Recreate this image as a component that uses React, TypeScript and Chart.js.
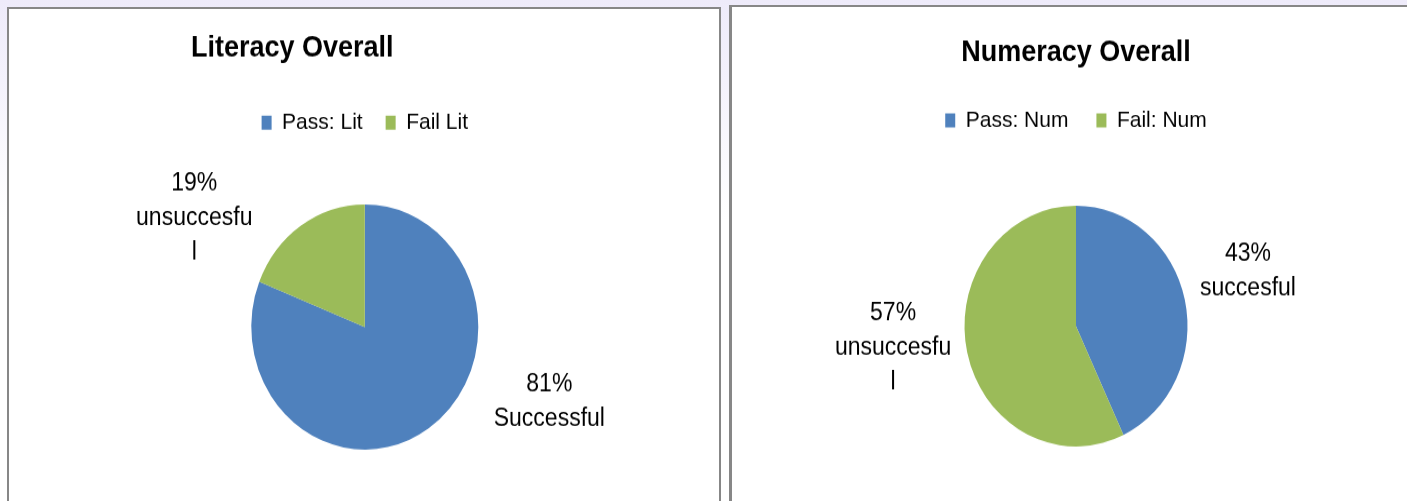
import React, { useEffect, useRef } from "react";
import { Chart, registerables } from "chart.js";

Chart.register(...registerables);

// ---- data ----
const litCategories = ["Pass: Lit", "Fail Lit"];
const litValues = [81, 19];
const litLabelWords = [["Successful"], ["unsuccesfu", "l"]];

const numCategories = ["Pass: Num", "Fail: Num"];
const numValues = [43, 57];
const numLabelWords = [["succesful"], ["unsuccesfu", "l"]];

const sliceColors = ["#4F81BD", "#9BBB59"];

const FONT = "'Liberation Sans', Arial, sans-serif";
const STRETCH = 1.08;

type Placement = { angle: number; dist: number };

const pieLabelsPlugin = {
  id: "pieLabels",
  afterDatasetsDraw(chart: any, _args: any, opts: any) {
    const meta = chart.getDatasetMeta(0);
    const ds = chart.data.datasets[0];
    const total = ds.data.reduce((a: number, b: number) => a + b, 0);
    const ctx = chart.ctx;
    ctx.save();
    ctx.font = `${opts.size}px ${FONT}`;
    ctx.fillStyle = "#000";
    ctx.textAlign = "center";
    ctx.textBaseline = "middle";
    meta.data.forEach((arc: any, i: number) => {
      const { x, y, outerRadius } = arc.getProps(["x", "y", "outerRadius"], true);
      const p: Placement = opts.placements[i];
      const a = (p.angle * Math.PI) / 180;
      const cx = x + p.dist * outerRadius * Math.sin(a);
      const cy = y - p.dist * outerRadius * Math.cos(a);
      const lines = [Math.round((ds.data[i] / total) * 100) + "%", ...opts.words[i]];
      const n = lines.length;
      lines.forEach((t: string, k: number) => {
        ctx.fillText(t, cx, cy + (k - (n - 1) / 2) * opts.lineHeight);
      });
    });
    ctx.restore();
  },
};

type PieProps = {
  left: number;
  top: number;
  width: number;
  height: number;
  title: string;
  titleAlign: "start" | "center";
  titlePad: { top: number; bottom: number };
  legendPad: number;
  padding: { left: number; right: number; top: number; bottom: number };
  radius: number;
  categories: string[];
  values: number[];
  words: string[][];
  placements: Placement[];
};

function PieChart(props: PieProps) {
  const ref = useRef<HTMLCanvasElement | null>(null);
  useEffect(() => {
    const canvas = ref.current!;
    const chart = new Chart(canvas, {
      type: "pie",
      data: {
        labels: props.categories,
        datasets: [
          {
            data: props.values,
            backgroundColor: sliceColors,
            borderWidth: 0,
            radius: props.radius,
          } as any,
        ],
      },
      options: {
        responsive: false,
        animation: false,
        events: [],
        layout: { padding: props.padding },
        plugins: {
          title: {
            display: true,
            text: props.title,
            align: props.titleAlign,
            color: "#000",
            font: { family: FONT, size: 27, weight: "bold", lineHeight: 1.2 },
            padding: props.titlePad,
          },
          legend: {
            display: true,
            position: "top",
            labels: {
              color: "#000",
              font: { family: FONT, size: 21 },
              boxWidth: 10,
              boxHeight: 13,
              padding: props.legendPad,
            },
          },
          tooltip: { enabled: false },
          pieLabels: {
            placements: props.placements,
            words: props.words,
            size: 23,
            lineHeight: 32,
          },
        } as any,
      },
      plugins: [pieLabelsPlugin],
    });
    return () => chart.destroy();
  }, []);
  return (
    <div
      style={{
        position: "absolute",
        left: props.left,
        top: props.top,
        width: props.width,
        height: props.height,
        transform: `scaleY(${STRETCH})`,
        transformOrigin: "0 0",
        zIndex: 2,
      }}
    >
      <canvas
        ref={ref}
        width={props.width}
        height={props.height}
        style={{ width: props.width, height: props.height, display: "block" }}
      />
    </div>
  );
}

export default function App() {
  return (
    <div
      style={{
        position: "fixed",
        left: 0,
        top: 0,
        width: 1407,
        height: 501,
        overflow: "hidden",
        background: "linear-gradient(to bottom, #EEEBFA 0px, #F4F2FC 80px, #FFFFFF 220px)",
      }}
    >
      <div
        style={{
          position: "absolute",
          left: 7,
          top: 7,
          width: 714,
          height: 600,
          boxSizing: "border-box",
          border: "2px solid #878787",
          borderBottom: "none",
          background: "#FFFFFF",
        }}
      />
      <div
        style={{
          position: "absolute",
          left: 729,
          top: 5,
          width: 720,
          height: 600,
          boxSizing: "border-box",
          borderLeft: "3px solid #878787",
          borderTop: "2px solid #878787",
          background: "#FFFFFF",
        }}
      />
      <PieChart
        left={9}
        top={9}
        width={711}
        height={470}
        title="Literacy Overall"
        titleAlign="start"
        titlePad={{ top: 20.7, bottom: 18.7 }}
        legendPad={23}
        padding={{ left: 182, right: 181.4, top: 0, bottom: 7 }}
        radius={113.5}
        categories={litCategories}
        values={litValues}
        words={litLabelWords}
        placements={[
          { angle: 110.6, dist: 1.737 },
          { angle: 300.5, dist: 1.744 },
        ]}
      />
      <PieChart
        left={732}
        top={7}
        width={688}
        height={472}
        title="Numeracy Overall"
        titleAlign="center"
        titlePad={{ top: 26.6, bottom: 7.4 }}
        legendPad={28}
        padding={{ left: 0, right: 0, top: 0, bottom: 6.6 }}
        radius={111.5}
        categories={numCategories}
        values={numValues}
        words={numLabelWords}
        placements={[
          { angle: 73.6, dist: 1.608 },
          { angle: 263.6, dist: 1.651 },
        ]}
      />
    </div>
  );
}
